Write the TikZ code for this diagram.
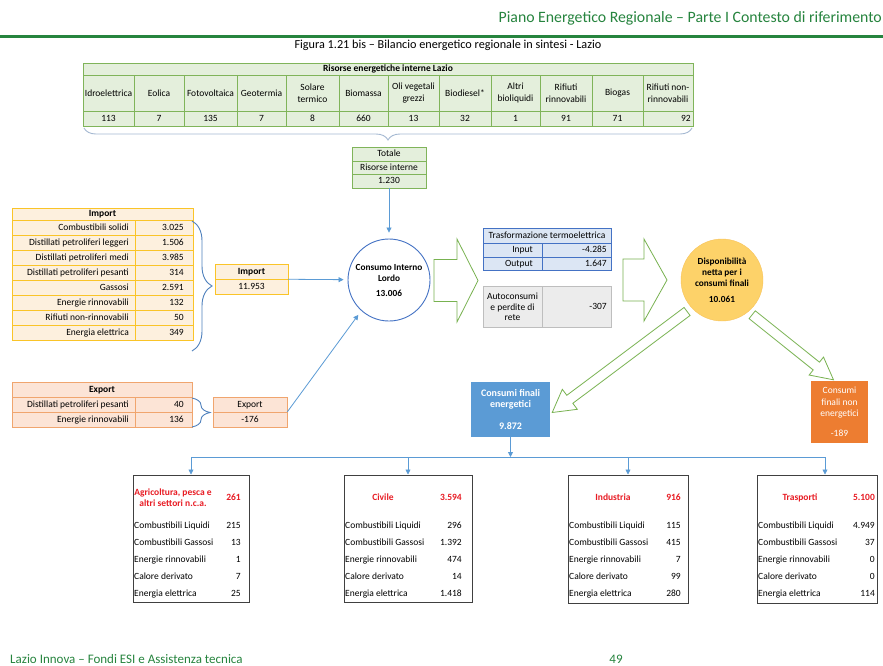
\documentclass[tikz,border=0pt]{standalone}
\usepackage{fontspec}
\setmainfont{Carlito}
\usetikzlibrary{arrows.meta, positioning, calc, decorations.pathreplacing}

\definecolor{pagegreen}{RGB}{38,132,62}
\definecolor{resfill}{RGB}{228,239,220}
\definecolor{resline}{RGB}{128,180,90}
\definecolor{impfill}{RGB}{253,240,222}
\definecolor{impline}{RGB}{250,196,40}
\definecolor{expfill}{RGB}{252,228,214}
\definecolor{expline}{RGB}{240,165,110}
\definecolor{trfill}{RGB}{220,230,244}
\definecolor{trline}{RGB}{68,114,196}
\definecolor{acfill}{RGB}{236,236,236}
\definecolor{acline}{RGB}{190,190,190}
\definecolor{linkblue}{RGB}{91,155,213}
\definecolor{braceblue}{RGB}{79,129,189}
\definecolor{bracegray}{RGB}{165,185,210}
\definecolor{arrowgreen}{RGB}{120,178,80}
\definecolor{dispfill}{RGB}{253,210,105}
\definecolor{displine}{RGB}{248,195,90}
\definecolor{cfeblue}{RGB}{91,155,213}
\definecolor{cfneorange}{RGB}{237,125,49}
\definecolor{sectred}{RGB}{232,28,36}

\newcommand{\tabfont}{\fontsize{9.5}{11.5}\selectfont}
% tail, tip, half shaft, half head, head length
\newcommand{\hollowarrow}[5]{%
  \coordinate (hb) at ($(#2)!#5!(#1)$);
  \draw[hollow] ($(#1)!#3!90:(#2)$) -- ($(hb)!#3!90:(#2)$) -- ($(hb)!#4!90:(#2)$) -- (#2)
    -- ($(hb)!#4!-90:(#2)$) -- ($(hb)!#3!-90:(#2)$) -- ($(#1)!#3!-90:(#2)$) -- cycle;
}

\begin{document}
\begin{tikzpicture}[x=1pt, y=-1pt, font=\tabfont,
    >={Triangle[length=5pt, width=5pt]},
    cell/.style={inner sep=0pt, text height=7pt, text depth=2pt},
    txt/.style={inner sep=0pt, align=center},
    link/.style={linkblue, line width=0.8pt},
    hollow/.style={draw=arrowgreen, line width=0.8pt, fill=white},
    curly/.style={decorate, decoration={brace, amplitude=#1}, line width=0.9pt},
    sector/.style={draw=black!75, line width=1pt, inner sep=0pt},
    sectitle/.style={text=sectred, font=\tabfont\bfseries}]
\fill[white, use as bounding box] (0,0) rectangle (883,665);

% Header and caption
\node[anchor=east, inner sep=0pt, text=pagegreen, font=\fontsize{15.8}{17}\selectfont] (head) at (882,18) {Piano Energetico Regionale – Parte I Contesto di riferimento};
\draw[pagegreen, line width=2.5pt] (0,36.5) -- (883,36.5);
\node[inner sep=0pt, font=\fontsize{12.2}{14}\selectfont] (caption) at (448,45.5) {Figura 1.21 bis – Bilancio energetico regionale in sintesi - Lazio};

% Risorse energetiche interne
\node[draw=resline, fill=resfill, minimum width=610pt, minimum height=63pt, inner sep=0pt] (res) at (388,94.5) {};
\draw[resline] (83,75) -- (693,75) (83,111) -- (693,111);
\foreach \x in {134,184,237,286,339,388,439,491,540,592,643}
  \draw[resline] (\x,75) -- (\x,126);
\node[cell, font=\tabfont\bfseries] (res-title) at (388,69) {Risorse energetiche interne Lazio};
\foreach \xc/\name/\val [count=\i] in {108.5/Idroelettrica/113, 159/Eolica/7, 210.5/Fotovoltaica/135, 261.5/Geotermia/7, 312.5/{Solare\\termico}/8, 363.5/Biomassa/660, 413.5/{Oli vegetali\\grezzi}/13, 465/Biodiesel*/32, 515.5/{Altri\\bioliquidi}/1, 566/{Rifiuti\\rinnovabili}/91, 617.5/Biogas/71} {
  \node[txt] (res-n\i) at (\xc,93) {\name};
  \node[cell] (res-v\i) at (\xc,118.5) {\val};
}
\node[txt] (res-n12) at (668,93) {Rifiuti non-\\rinnovabili};
\node[cell, anchor=east] (res-v12) at (691,118.5) {92};
\draw[curly=12pt, bracegray] (692,128) -- (84,128);

% Totale risorse interne
\node[draw=resline, fill=resfill, minimum width=74pt, minimum height=41pt, inner sep=0pt] (tot) at (389,167.5) {};
\draw[resline] (352,161) -- (426,161) (352,174) -- (426,174);
\node[cell] (tot-1) at (389,154) {Totale};
\node[cell] (tot-2) at (389,167.5) {Risorse interne};
\node[cell] (tot-3) at (389,181) {1.230};

% Consumo interno lordo
\node[circle, draw=trline, line width=0.9pt, fill=white, minimum size=82pt, txt, font=\fontsize{9.3}{11}\selectfont\bfseries] (cil) at (389,280) {Consumo Interno\\Lordo\\[4pt]13.006};
\draw[link, ->, shorten >=6pt] (tot) -- (cil);

% Import
\node[draw=impline, fill=impfill, minimum width=181pt, minimum height=132pt, inner sep=0pt] (imp) at (102.5,274) {};
\draw[impline] (12,220) -- (193,220) (135,220) -- (135,340);
\foreach \y in {235,250,...,325}
  \draw[impline] (12,\y) -- (193,\y);
\node[cell, font=\tabfont\bfseries] (imp-head) at (102.5,214) {Import};
\foreach \lab/\val [count=\k] in {Combustibili solidi/3.025, Distillati petroliferi leggeri/1.506, Distillati petroliferi medi/3.985, Distillati petroliferi pesanti/314, Gassosi/2.591, Energie rinnovabili/132, Rifiuti non-rinnovabili/50, Energia elettrica/349} {
  \node[cell, anchor=east] (imp-l\k) at (129,{212.5+15*\k}) {\lab};
  \node[cell, anchor=east] (imp-v\k) at (184,{212.5+15*\k}) {\val};
}
\draw[curly=20pt, braceblue] (192,221) -- (192,351);
\node[draw=impline, fill=impfill, minimum width=73pt, minimum height=30pt, inner sep=0pt] (imps) at (251.5,279) {};
\draw[impline] (215,279) -- (288,279);
\node[cell, font=\tabfont\bfseries] (imps-1) at (251.5,271.5) {Import};
\node[cell] (imps-2) at (251.5,286.5) {11.953};
\draw[link, ->, shorten >=4pt] (imps) -- (cil);

% Export
\node[draw=expline, fill=expfill, minimum width=180pt, minimum height=45pt, inner sep=0pt] (exp) at (102,404.5) {};
\draw[expline] (12,397) -- (192,397) (12,412) -- (192,412) (135,397) -- (135,427);
\node[cell, font=\tabfont\bfseries] (exp-head) at (102,389.5) {Export};
\node[cell, anchor=east] (exp-l1) at (129,404.5) {Distillati petroliferi pesanti};
\node[cell, anchor=east] (exp-v1) at (184,404.5) {40};
\node[cell, anchor=east] (exp-l2) at (129,419.5) {Energie rinnovabili};
\node[cell, anchor=east] (exp-v2) at (184,419.5) {136};
\draw[curly=18pt, braceblue] (192,398) -- (192,427);
\node[draw=expline, fill=expfill, minimum width=74pt, minimum height=30pt, inner sep=0pt] (exps) at (250,412) {};
\draw[expline] (213,412) -- (287,412);
\node[cell] (exps-1) at (250,404.5) {Export};
\node[cell] (exps-2) at (250,419.5) {-176};
\draw[link, ->, shorten >=5pt] (exps.east) -- (cil.228);

% Trasformazione e perdite
\node[draw=trline, fill=trfill, minimum width=128pt, minimum height=42pt, inner sep=0pt] (trasf) at (547,249) {};
\draw[trline] (483,243) -- (611,243) (483,257) -- (611,257) (542,243) -- (542,270);
\node[cell] (trasf-t) at (547,235.5) {Trasformazione termoelettrica};
\node[cell, anchor=east] (trasf-l1) at (533,250) {Input};
\node[cell, anchor=east] (trasf-v1) at (607,250) {-4.285};
\node[cell, anchor=east] (trasf-l2) at (533,263.5) {Output};
\node[cell, anchor=east] (trasf-v2) at (607,263.5) {1.647};
\node[draw=acline, fill=acfill, minimum width=128pt, minimum height=41pt, inner sep=0pt] (autoc) at (547,306.5) {};
\draw[acline] (542,286) -- (542,327);
\node[txt, font=\fontsize{9.5}{10.5}\selectfont] (autoc-l) at (512.5,307) {Autoconsumi\\e perdite di\\rete};
\node[cell, anchor=east] (autoc-v) at (607,307) {-307};

% Disponibilita netta
\node[circle, draw=displine, fill=dispfill, minimum size=82pt, txt, font=\fontsize{9.3}{11}\selectfont\bfseries] (disp) at (722,280) {Disponibilità\\netta per i\\consumi finali\\[5pt]10.061};

% Big arrows
\coordinate (ga1-tail) at (434,280.5);
\coordinate (ga1-tip) at (478,280.5);
\hollowarrow{ga1-tail}{ga1-tip}{21pt}{41.5pt}{21pt}
\coordinate (ga2-tail) at (623,280);
\coordinate (ga2-tip) at (667,280);
\hollowarrow{ga2-tail}{ga2-tip}{21pt}{41pt}{23pt}

% Consumi finali
\node[fill=cfeblue, minimum width=79pt, minimum height=55pt, txt, text=white, font=\fontsize{10}{11}\selectfont\bfseries] (cfe) at (510.5,409.5) {Consumi finali\\energetici\\[11pt]9.872};
\node[fill=cfneorange, minimum width=57pt, minimum height=62pt, txt, text=white] (cfne) at (839.5,412) {Consumi\\finali non\\energetici\\[8pt]-189};
\coordinate (dl-tail) at ($(disp.center)+(222:47pt)$);
\coordinate (dl-tip) at ($(cfe.east)+(2,3)$);
\hollowarrow{dl-tail}{dl-tip}{5pt}{12.5pt}{22pt}
\coordinate (dr-tail) at ($(disp.center)+(311:46pt)$);
\coordinate (dr-tip) at ($(cfne.north)+(-6,-1)$);
\hollowarrow{dr-tail}{dr-tip}{5pt}{11.5pt}{22pt}

% Settori
\node[sector, minimum width=116pt, minimum height=127pt] (agr) at (191,538.5) {};
\node[sector, minimum width=128pt, minimum height=127pt] (civ) at (408,538.5) {};
\node[sector, minimum width=120pt, minimum height=128pt] (ind) at (628,539) {};
\node[sector, minimum width=120pt, minimum height=128pt] (tra) at (817,539) {};
\node[txt, sectitle] (agr-t) at (173,497.5) {Agricoltura, pesca e\\altri settori n.c.a.};
\node[cell, anchor=east, sectitle] (agr-tv) at (241,497.5) {261};
\node[cell, sectitle] (civ-t) at (383,497.5) {Civile};
\node[cell, anchor=east, sectitle] (civ-tv) at (462,497.5) {3.594};
\node[cell, sectitle] (ind-t) at (613,497.5) {Industria};
\node[cell, anchor=east, sectitle] (ind-tv) at (681,497.5) {916};
\node[cell, sectitle] (tra-t) at (800,497.5) {Trasporti};
\node[cell, anchor=east, sectitle] (tra-tv) at (875,497.5) {5.100};
\foreach \nm/\xl/\xv/\vals in {agr/134/241/{215,13,1,7,25}, civ/345/462/{296,1.392,474,14,1.418}, ind/569/681/{115,415,7,99,280}, tra/758/875/{4.949,37,0,0,114}} {
  \foreach \lab [count=\k] in {Combustibili Liquidi, Combustibili Gassosi, Energie rinnovabili, Calore derivato, Energia elettrica}
    \node[cell, anchor=west] (\nm-l\k) at (\xl,{509+17*\k}) {\lab};
  \foreach \v [count=\k] in \vals
    \node[cell, anchor=east] (\nm-v\k) at (\xv,{509+17*\k}) {\v};
}

% Distribution lines
\coordinate (bus) at (0,457);
\coordinate (tra-in) at (825,457);
\draw[link, ->] (cfe.south) -- (cfe.south |- bus);
\draw[link] (agr.north |- bus) -- (tra-in);
\draw[link, ->] (agr.north |- bus) -- (agr.north);
\draw[link, ->] (civ.north |- bus) -- (civ.north);
\draw[link, ->] (ind.north |- bus) -- (ind.north);
\draw[link, ->] (tra-in) -- (tra-in |- tra.north);

% Footer
\node[anchor=west, inner sep=0pt, text=pagegreen, font=\fontsize{13}{15}\selectfont] (foot) at (10,659) {Lazio Innova – Fondi ESI e Assistenza tecnica};
\node[inner sep=0pt, text=pagegreen, font=\fontsize{13}{15}\selectfont] (page) at (616,659) {49};
\end{tikzpicture}
\end{document}
